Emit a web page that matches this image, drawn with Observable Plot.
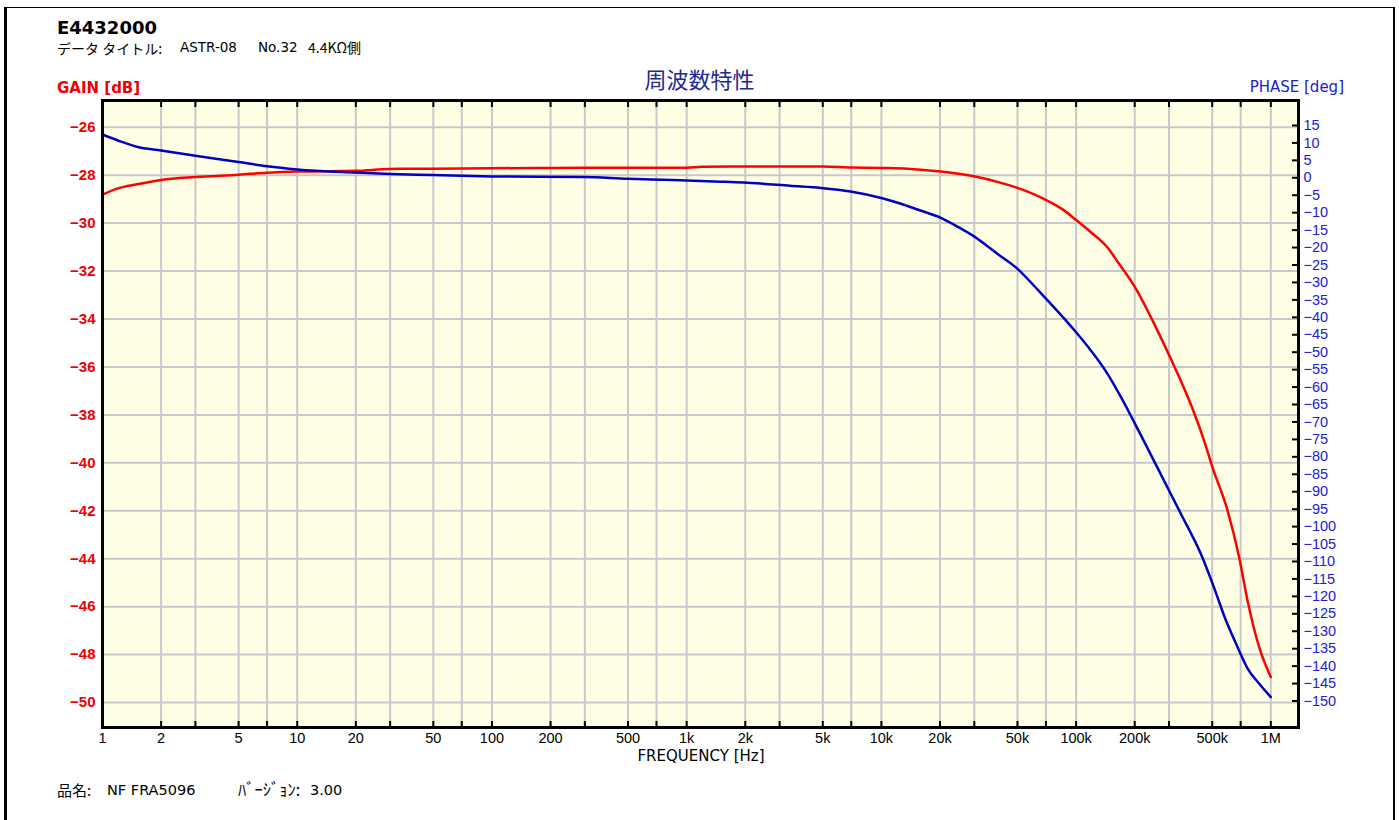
<!DOCTYPE html>
<html><head><meta charset="utf-8">
<script src="https://cdn.jsdelivr.net/npm/d3@7"></script>
<script src="https://cdn.jsdelivr.net/npm/@observablehq/plot@0.6"></script>
<style>
body{margin:0;background:#fff;width:1399px;height:820px;overflow:hidden;position:relative;font-family:"DejaVu Sans",sans-serif}
.t{position:absolute;white-space:pre;line-height:1;color:#000}
.jp{font-family:"Noto Sans CJK JP","DejaVu Sans",sans-serif}
#page{position:absolute;left:4px;top:7px;width:1386px;height:830px;border-left:3px solid #000;border-top:1px solid #000;border-right:2px solid #000}
#chart{position:absolute;left:0;top:0}
</style></head><body>
<div id="page"></div>
<div id="chart"></div>
<div class="t" style="left:57px;top:19px;font-size:18px;font-weight:bold">E4432000</div>
<div class="t jp" style="left:57px;top:41px;font-size:14px">データ タイトル:</div>
<div class="t" style="left:180px;top:41px;font-size:13.5px">ASTR-08</div>
<div class="t" style="left:258px;top:41px;font-size:13.5px">No.32</div>
<div class="t jp" style="left:308px;top:40px;font-size:14px">4.4KΩ側</div>
<div class="t" style="left:57px;top:81px;font-size:15px;font-weight:bold;color:#f00000">GAIN [dB]</div>
<div class="t jp" style="left:0;width:1399px;text-align:center;top:67px;font-size:22px;color:#262690">周波数特性</div>
<div class="t" style="right:55px;top:80px;font-size:15px;color:#2020d0">PHASE [deg]</div>
<div class="t" style="left:0;width:1402px;text-align:center;top:749px;font-size:15px">FREQUENCY [Hz]</div>
<div class="t jp" style="left:57px;top:782px;font-size:15px">品名:</div>
<div class="t" style="left:107px;top:783px;font-size:14.5px">NF FRA5096</div>
<div class="t jp" style="left:238px;top:781px;font-size:16.5px">ﾊﾞｰｼﾞｮﾝ:</div>
<div class="t" style="left:310px;top:783px;font-size:14.5px">3.00</div>
<script>
const gainFreq = [1, 1.2, 1.5, 2, 3, 5, 7, 10, 20, 30, 50, 100, 200, 500, 1000, 1200, 2000, 5000, 7000, 10000, 13600, 20200, 30300, 39400, 50000, 71000, 86700, 100000, 119000, 145000, 163000, 203000, 242000, 306000, 359000, 403000, 454000, 501000, 599000, 687000, 759000, 871000, 1000000];
const gainDb = [-28.81, -28.55, -28.38, -28.2, -28.08, -27.98, -27.9, -27.85, -27.82, -27.74, -27.73, -27.71, -27.7, -27.69, -27.69, -27.65, -27.64, -27.64, -27.68, -27.7, -27.73, -27.85, -28.06, -28.28, -28.53, -29.06, -29.47, -29.87, -30.38, -31.02, -31.6, -32.74, -33.92, -35.65, -36.9, -37.9, -39.07, -40.18, -41.98, -43.93, -45.74, -47.69, -48.94];
const phaseFreq = [1, 1.2, 1.5, 2, 3, 5, 7, 10, 20, 30, 50, 100, 300, 500, 850, 1500, 2300, 3400, 4900, 6950, 10100, 12600, 15300, 20200, 24600, 30300, 39400, 50000, 63300, 71000, 86700, 100000, 119000, 145000, 170000, 201000, 294000, 345000, 437000, 532000, 575000, 674000, 760000, 870000, 1000000];
const phaseDeg = [12.4, 10.7, 8.9, 7.8, 6.3, 4.5, 3.3, 2.4, 1.5, 1.1, 0.8, 0.4, 0.2, -0.3, -0.6, -1.1, -1.6, -2.3, -2.9, -3.9, -5.85, -7.45, -9.1, -11.5, -14.0, -17.0, -21.8, -26.1, -32.0, -35.0, -40.3, -44.3, -49.5, -56.2, -62.9, -70.6, -88.7, -96.3, -107.8, -120.2, -125.5, -134.5, -140.7, -145.0, -148.9];
const gainTicks = [-26, -28, -30, -32, -34, -36, -38, -40, -42, -44, -46, -48, -50];
const phaseTicks = [15, 10, 5, 0, -5, -10, -15, -20, -25, -30, -35, -40, -45, -50, -55, -60, -65, -70, -75, -80, -85, -90, -95, -100, -105, -110, -115, -120, -125, -130, -135, -140, -145, -150];
const gridFreqs = [1, 2, 3, 5, 7, 10, 20, 30, 50, 70, 100, 200, 300, 500, 700, 1000, 2000, 3000, 5000, 7000, 10000, 20000, 30000, 50000, 70000, 100000, 200000, 300000, 500000, 700000, 1000000];
const freqLabelVals = [1, 2, 5, 10, 20, 50, 100, 200, 500, 1000, 2000, 5000, 10000, 20000, 50000, 100000, 200000, 500000, 1000000];
const freqLabelText = ["1", "2", "5", "10", "20", "50", "100", "200", "500", "1k", "2k", "5k", "10k", "20k", "50k", "100k", "200k", "500k", "1M"];

// secondary (phase) axis mapped onto the gain axis
const g0 = -28.11, k = 0.1455;
const toGainAxis = p => g0 + k * p;
const minus = v => String(v).replace("-", "\u2212");

const gainRows = gainFreq.map((f, i) => ({f, v: gainDb[i]}));
const phaseRows = phaseFreq.map((f, i) => ({f, v: toGainAxis(phaseDeg[i])}));
const phaseTickPos = phaseTicks.map(toGainAxis);
const phaseLabel = new Map(phaseTickPos.map((p, i) => [p, minus(phaseTicks[i])]));
const freqRows = freqLabelVals.map((f, i) => ({f, label: freqLabelText[i]}));

const chart = Plot.plot({
  width: 1399, height: 820,
  marginLeft: 102, marginRight: 101, marginTop: 100, marginBottom: 93,
  x: {type: "log", domain: [1, 1.387e6]},
  y: {domain: [-51.04, -24.886]},
  style: {background: "transparent", fontFamily: "Liberation Sans, Arial, sans-serif", fontSize: "14.5px", color: "#000"},
  marks: [
    Plot.frame({fill: "#ffffe6", stroke: null}),
    Plot.ruleY(gainTicks, {stroke: "#c8c8c8", strokeWidth: 2}),
    Plot.ruleX(gridFreqs, {stroke: "#c8c8c8", strokeWidth: 2}),
    Plot.line(gainRows, {x: "f", y: "v", stroke: "#ff0000", strokeWidth: 2.5, curve: "monotone-x"}),
    Plot.line(phaseRows, {x: "f", y: "v", stroke: "#0000c0", strokeWidth: 2.5, curve: "monotone-x"}),
    Plot.frame({stroke: "#000", strokeWidth: 3}),
    Plot.axisY({anchor: "left", ticks: gainTicks, tickSize: 0, tickPadding: 7, tickFormat: minus, fill: "#f00000", fontWeight: "bold", fontSize: 15, label: null}),
    Plot.axisY({anchor: "right", ticks: phaseTickPos, tickSize: -7, tickPadding: 12, strokeWidth: 2, stroke: "#000", fill: "#2020d0", tickFormat: d => phaseLabel.get(d), label: null}),
    Plot.axisX({anchor: "bottom", ticks: gridFreqs, tickSize: -6, strokeWidth: 2, tickFormat: () => "", label: null}),
    Plot.axisX({anchor: "top", ticks: gridFreqs, tickSize: -6, strokeWidth: 2, tickFormat: () => "", label: null}),
    Plot.text(freqRows, {x: "f", text: "label", frameAnchor: "bottom", lineAnchor: "top", dy: 5, fill: "#000", fontSize: 14.5})
  ]
});
document.getElementById("chart").append(chart);
</script>
</body></html>
